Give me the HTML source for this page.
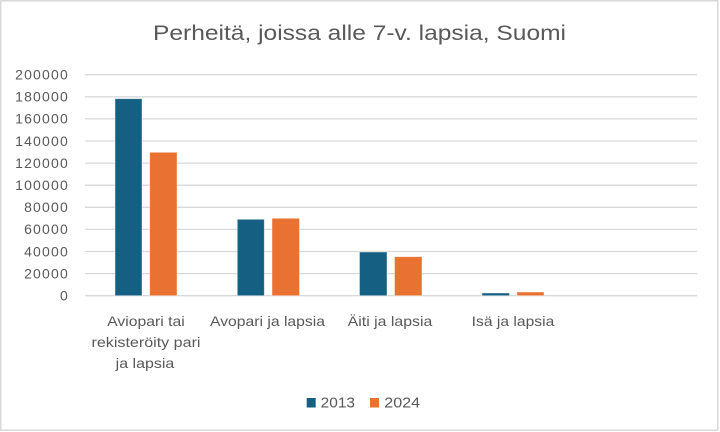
<!DOCTYPE html>
<html>
<head>
<meta charset="utf-8">
<style>
  html,body{margin:0;padding:0;background:#fff;}
  svg{display:block;}
  text{font-family:"Liberation Sans",sans-serif;fill:#595959;}
</style>
</head>
<body>
<svg width="720" height="432" viewBox="0 0 720 432" xmlns="http://www.w3.org/2000/svg">
  <rect x="0" y="0" width="720" height="432" fill="#fff"/>
  <rect x="0.75" y="0.75" width="717" height="429.5" fill="none" stroke="#d9d9d9" stroke-width="1.5"/>

  <!-- title -->
  <text x="359.5" y="40" font-size="21" text-anchor="middle" textLength="413" lengthAdjust="spacingAndGlyphs">Perheitä, joissa alle 7-v. lapsia, Suomi</text>

  <!-- gridlines -->
  <g stroke="#d9d9d9" stroke-width="1.3">
    <line x1="85" x2="697" y1="74.7" y2="74.7"/>
    <line x1="85" x2="697" y1="96.8" y2="96.8"/>
    <line x1="85" x2="697" y1="118.9" y2="118.9"/>
    <line x1="85" x2="697" y1="141" y2="141"/>
    <line x1="85" x2="697" y1="163.1" y2="163.1"/>
    <line x1="85" x2="697" y1="185.2" y2="185.2"/>
    <line x1="85" x2="697" y1="207.3" y2="207.3"/>
    <line x1="85" x2="697" y1="229.4" y2="229.4"/>
    <line x1="85" x2="697" y1="251.5" y2="251.5"/>
    <line x1="85" x2="697" y1="273.6" y2="273.6"/>
    <line x1="85" x2="697" y1="295.7" y2="295.7"/>
  </g>

  <!-- y labels -->
  <g font-size="14" text-anchor="end" letter-spacing="1.2">
    <text x="69" y="79.5">200000</text>
    <text x="69" y="101.6">180000</text>
    <text x="69" y="123.7">160000</text>
    <text x="69" y="145.8">140000</text>
    <text x="69" y="167.9">120000</text>
    <text x="69" y="190">100000</text>
    <text x="69" y="212.1">80000</text>
    <text x="69" y="234.2">60000</text>
    <text x="69" y="256.3">40000</text>
    <text x="69" y="278.4">20000</text>
    <text x="69" y="300.5">0</text>
  </g>

  <!-- bars -->
  <g stroke="#ffffff" stroke-opacity="0.5" stroke-width="0.8">
    <rect x="115" y="98.7" width="27" height="197" fill="#156082"/>
    <rect x="149.7" y="152.3" width="27.3" height="143.4" fill="#E97132"/>

    <rect x="237.3" y="219.3" width="27" height="76.4" fill="#156082"/>
    <rect x="272" y="218.3" width="27.5" height="77.4" fill="#E97132"/>

    <rect x="359.5" y="252" width="27.5" height="43.7" fill="#156082"/>
    <rect x="394.5" y="256.7" width="27.5" height="39" fill="#E97132"/>

    <rect x="482" y="293" width="27.5" height="2.7" fill="#156082"/>
    <rect x="517" y="292" width="27" height="3.7" fill="#E97132"/>
  </g>

  <!-- category labels -->
  <g font-size="14" text-anchor="middle">
    <text x="146" y="326" textLength="77.6" lengthAdjust="spacingAndGlyphs">Aviopari tai</text>
    <text x="146" y="347" textLength="109" lengthAdjust="spacingAndGlyphs">rekisteröity pari</text>
    <text x="145" y="368" textLength="58.6" lengthAdjust="spacingAndGlyphs">ja lapsia</text>
    <text x="267.5" y="326" textLength="115" lengthAdjust="spacingAndGlyphs">Avopari ja lapsia</text>
    <text x="390" y="326" textLength="84.6" lengthAdjust="spacingAndGlyphs">Äiti ja lapsia</text>
    <text x="513" y="326" textLength="82.6" lengthAdjust="spacingAndGlyphs">Isä ja lapsia</text>
  </g>

  <!-- legend -->
  <rect x="306.7" y="398" width="9" height="9.5" fill="#156082"/>
  <text x="320.7" y="407.7" font-size="14.5" textLength="34.3" lengthAdjust="spacingAndGlyphs">2013</text>
  <rect x="370" y="398" width="9" height="9.5" fill="#E97132"/>
  <text x="384.3" y="407.7" font-size="14.5" textLength="35.7" lengthAdjust="spacingAndGlyphs">2024</text>
</svg>
</body>
</html>
